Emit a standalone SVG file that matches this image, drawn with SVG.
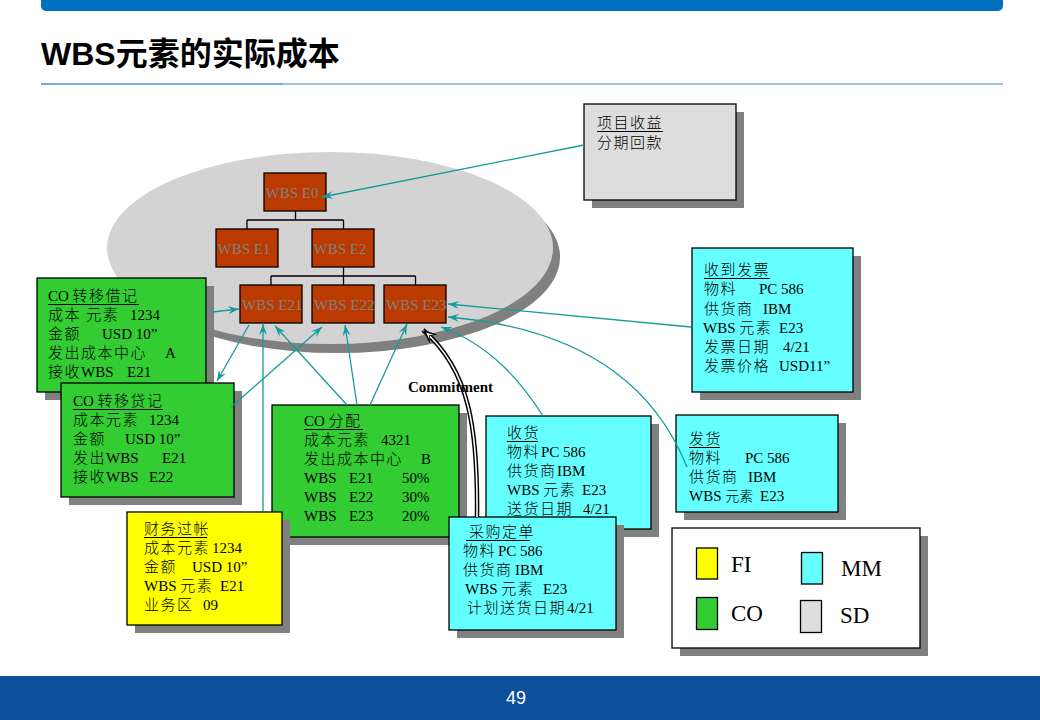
<svg xmlns="http://www.w3.org/2000/svg" width="1040" height="720" viewBox="0 0 1040 720">
<style>
.sh{fill:#808080}
.bx{stroke:#000;stroke-width:1.3}
.t{font-family:"Liberation Serif","Noto Sans CJK SC",serif;font-size:15px;font-weight:300;fill:#000}
.k{letter-spacing:1.5px}
.w{fill:#BB3A00;stroke:#000;stroke-width:1.3}
.wt{font-family:"Liberation Serif",serif;font-size:15px;fill:#808080}
.c{fill:none;stroke:#149C9C;stroke-width:1.3}
.u{stroke:#000;stroke-width:1}
.tree{fill:none;stroke:#000;stroke-width:1.3}
.lg{font-family:"Liberation Serif",serif;font-size:23px;fill:#000}
</style>
<defs>
<marker id="a" viewBox="0 0 12 10" refX="11" refY="5" markerWidth="12" markerHeight="10" orient="auto" markerUnits="userSpaceOnUse">
<path d="M0,1 L11,5 L0,9 L4,5 z" fill="#149C9C"/>
</marker>
<marker id="cm" viewBox="0 0 15 12" refX="14" refY="6" markerWidth="15" markerHeight="12" orient="auto" markerUnits="userSpaceOnUse">
<path d="M0,0 L14,6 L0,12 L5,6 z" fill="#000"/>
<path d="M3,3 L10,6 L3,9 L6,6 z" fill="#fff"/>
</marker>
</defs>
<rect width="1040" height="720" fill="#fff"/>
<!-- header -->
<path d="M41,0 H1003 V6 a5,5 0 0 1 -5,5 H46 a5,5 0 0 1 -5,-5 Z" fill="#0070C0"/>
<text x="41" y="65" font-family="'Liberation Sans','Noto Sans CJK SC',sans-serif" font-size="32" font-weight="bold" fill="#000">WBS元素的实际成本</text>
<line x1="41" y1="84" x2="283" y2="84" stroke="#4F8FBF" stroke-width="1.5"/>
<line x1="283" y1="84" x2="1003" y2="84" stroke="#7FB5D0" stroke-width="1.5"/>
<!-- footer -->
<rect x="0" y="676" width="1040" height="44" fill="#0C4F9B"/>
<text x="516" y="704" text-anchor="middle" font-family="'Liberation Sans',sans-serif" font-size="18" fill="#fff">49</text>

<!-- ellipse -->
<g id="scope">
<ellipse cx="337" cy="257" rx="223" ry="96" fill="#808080"/>
<ellipse cx="330" cy="248" rx="223" ry="96" fill="#D3D3D3"/>
</g>

<!-- WBS tree -->
<g id="tree-lines">
<path class="tree" d="M295.5,211 V220 M247,220 H343.5 M247,220 V229 M343.5,220 V229 M343.5,267 V276 M271,276 H415.5 M271,276 V285 M343.5,276 V285 M415.5,276 V285"/>
</g>
<g id="wbs-e0"><rect class="w" x="264" y="173" width="62" height="38"/><text class="wt" x="265.5" y="198">WBS E0</text></g>
<g id="wbs-e1"><rect class="w" x="216" y="229" width="62" height="38"/><text class="wt" x="217.5" y="254">WBS E1</text></g>
<g id="wbs-e2"><rect class="w" x="312" y="229" width="62" height="38"/><text class="wt" x="313.5" y="254">WBS E2</text></g>
<g id="wbs-e21"><rect class="w" x="240" y="285" width="62" height="38"/><text class="wt" x="242" y="310">WBS E21</text></g>
<g id="wbs-e22"><rect class="w" x="312" y="285" width="62" height="38"/><text class="wt" x="314" y="310">WBS E22</text></g>
<g id="wbs-e23"><rect class="w" x="384" y="285" width="62" height="38"/><text class="wt" x="386" y="310">WBS E23</text></g>

<!-- SD box -->
<g id="sd-revenue">
<rect class="sh" x="592" y="112" width="152" height="96"/>
<rect class="bx" x="584" y="104" width="152" height="96" fill="#DDDDDD"/>
<text class="t k" x="597" y="128">项目收益</text>
<line class="u" x1="597" y1="131.5" x2="663" y2="131.5"/>
<text class="t k" x="597" y="148">分期回款</text>
</g>

<!-- CO transfer debit -->
<g id="co-debit">
<rect class="sh" x="45" y="286" width="169" height="114"/>
<rect class="bx" x="37" y="278" width="169" height="114" fill="#33CC33"/>
<text class="t" y="301"><tspan x="48">CO </tspan><tspan class="k">转移借记</tspan></text>
<line class="u" x1="48" y1="304.5" x2="139" y2="304.5"/>
<text class="t" y="320"><tspan x="48" class="k">成本 元素</tspan><tspan x="130">1234</tspan></text>
<text class="t" y="339"><tspan x="48" class="k">金额</tspan><tspan x="102">USD  10”</tspan></text>
<text class="t" y="358"><tspan x="48" class="k">发出成本中心</tspan><tspan x="165">A</tspan></text>
<text class="t" y="377"><tspan x="48" class="k">接收</tspan><tspan>WBS</tspan><tspan x="127">E21</tspan></text>
</g>

<!-- CO transfer credit -->
<g id="co-credit">
<rect class="sh" x="69" y="391" width="173" height="114"/>
<rect class="bx" x="61" y="383" width="173" height="114" fill="#33CC33"/>
<text class="t" y="406"><tspan x="73">CO </tspan><tspan class="k">转移贷记</tspan></text>
<line class="u" x1="73" y1="409.5" x2="163" y2="409.5"/>
<text class="t" y="425"><tspan x="73" class="k">成本元素</tspan><tspan x="149">1234</tspan></text>
<text class="t" y="444"><tspan x="73" class="k">金额</tspan><tspan x="125">USD  10”</tspan></text>
<text class="t" y="463"><tspan x="73" class="k">发出</tspan><tspan>WBS</tspan><tspan x="162">E21</tspan></text>
<text class="t" y="482"><tspan x="73" class="k">接收</tspan><tspan>WBS</tspan><tspan x="149">E22</tspan></text>
</g>

<!-- CO allocation -->
<g id="co-alloc">
<rect class="sh" x="280" y="413" width="187" height="132"/>
<rect class="bx" x="272" y="405" width="187" height="132" fill="#33CC33"/>
<text class="t" y="426"><tspan x="304">CO </tspan><tspan class="k">分配</tspan></text>
<line class="u" x1="304" y1="429.5" x2="363" y2="429.5"/>
<text class="t" y="445"><tspan x="304" class="k">成本元素</tspan><tspan x="381">4321</tspan></text>
<text class="t" y="464"><tspan x="304" class="k">发出成本中心</tspan><tspan x="421">B</tspan></text>
<text class="t" y="483"><tspan x="304">WBS</tspan><tspan x="349">E21</tspan><tspan x="402">50%</tspan></text>
<text class="t" y="502"><tspan x="304">WBS</tspan><tspan x="349">E22</tspan><tspan x="402">30%</tspan></text>
<text class="t" y="521"><tspan x="304">WBS</tspan><tspan x="349">E23</tspan><tspan x="402">20%</tspan></text>
</g>

<!-- FI posting -->
<g id="fi-posting">
<rect class="sh" x="135" y="520" width="155" height="113"/>
<rect class="bx" x="127" y="512" width="155" height="113" fill="#FFFF00"/>
<text class="t k" x="144" y="534">财务过帐</text>
<line class="u" x1="144" y1="537.5" x2="207" y2="537.5"/>
<text class="t" y="553"><tspan x="144" class="k">成本元素</tspan><tspan x="212">1234</tspan></text>
<text class="t" y="572"><tspan x="144" class="k">金额</tspan><tspan x="192">USD 10”</tspan></text>
<text class="t" y="591"><tspan x="144">WBS </tspan><tspan class="k">元素</tspan><tspan x="220">E21</tspan></text>
<text class="t" y="610"><tspan x="144" class="k">业务区</tspan><tspan x="203">09</tspan></text>
</g>

<!-- Goods receipt -->
<g id="mm-gr">
<rect class="sh" x="494" y="424" width="165" height="113"/>
<rect class="bx" x="486" y="416" width="165" height="113" fill="#66FFFF"/>
<text class="t k" x="507" y="438">收货</text>
<line class="u" x1="507" y1="441.5" x2="538" y2="441.5"/>
<text class="t" y="457"><tspan x="507" class="k">物料</tspan><tspan x="541">PC 586</tspan></text>
<text class="t" y="476"><tspan x="507" class="k">供货商</tspan><tspan x="557">IBM</tspan></text>
<text class="t" y="495"><tspan x="507">WBS </tspan><tspan class="k">元素</tspan><tspan x="582">E23</tspan></text>
<text class="t" y="514"><tspan x="507" class="k">送货日期</tspan><tspan x="583">4/21</tspan></text>
</g>

<!-- Purchase order -->
<g id="mm-po">
<rect class="sh" x="457" y="525" width="167" height="113"/>
<rect class="bx" x="449" y="517" width="167" height="113" fill="#66FFFF"/>
<text class="t k" x="469" y="537">采购定单</text>
<line class="u" x1="466" y1="540.5" x2="530" y2="540.5"/>
<text class="t" y="556"><tspan x="463" class="k">物料</tspan><tspan x="498">PC 586</tspan></text>
<text class="t" y="575"><tspan x="463" class="k">供货商</tspan><tspan x="515">IBM</tspan></text>
<text class="t" y="594"><tspan x="465">WBS </tspan><tspan class="k">元素</tspan><tspan x="543">E23</tspan></text>
<text class="t" y="613"><tspan x="467" class="k">计划送货日期</tspan><tspan x="567">4/21</tspan></text>
</g>

<!-- Invoice receipt -->
<g id="mm-ir">
<rect class="sh" x="700" y="256" width="161" height="144"/>
<rect class="bx" x="692" y="248" width="161" height="144" fill="#66FFFF"/>
<text class="t k" x="704" y="275">收到发票</text>
<line class="u" x1="704" y1="278.5" x2="770" y2="278.5"/>
<text class="t" y="294"><tspan x="704" class="k">物料</tspan><tspan x="759">PC 586</tspan></text>
<text class="t" y="314"><tspan x="704" class="k">供货商</tspan><tspan x="763">IBM</tspan></text>
<text class="t" y="333"><tspan x="703">WBS </tspan><tspan class="k">元素</tspan><tspan x="779">E23</tspan></text>
<text class="t" y="352"><tspan x="704" class="k">发票日期</tspan><tspan x="783">4/21</tspan></text>
<text class="t" y="371"><tspan x="704" class="k">发票价格</tspan><tspan x="779">USD11”</tspan></text>
</g>

<!-- Goods issue -->
<g id="mm-gi">
<rect class="sh" x="684" y="423" width="162" height="97"/>
<rect class="bx" x="676" y="415" width="162" height="97" fill="#66FFFF"/>
<text class="t k" x="689" y="444">发货</text>
<line class="u" x1="689" y1="447.5" x2="720" y2="447.5"/>
<text class="t" y="463"><tspan x="689" class="k">物料</tspan><tspan x="745">PC 586</tspan></text>
<text class="t" y="482"><tspan x="689" class="k">供货商</tspan><tspan x="748">IBM</tspan></text>
<text class="t" y="501"><tspan x="689">WBS </tspan><tspan font-size="14">元素</tspan><tspan x="760">E23</tspan></text>
</g>

<!-- Legend -->
<g id="legend">
<rect class="sh" x="680" y="536" width="248" height="120"/>
<rect class="bx" x="672" y="528" width="248" height="120" fill="#fff"/>
<rect class="bx" x="696.5" y="548" width="21" height="31" fill="#FFFF00"/>
<text class="lg" x="731" y="572">FI</text>
<rect class="bx" x="696.5" y="597.5" width="21" height="32" fill="#33CC33"/>
<text class="lg" x="731" y="621">CO</text>
<rect class="bx" x="801.5" y="552.5" width="21" height="31.5" fill="#66FFFF"/>
<text class="lg" x="841" y="576">MM</text>
<rect class="bx" x="800.5" y="600.5" width="21" height="32" fill="#DDDDDD"/>
<text class="lg" x="840" y="623">SD</text>
</g>

<!-- connectors -->
<g id="connectors">
<path class="c" d="M584,145 L322,197" marker-end="url(#a)"/>
<path class="c" d="M212,312 L239,309" marker-end="url(#a)"/>
<path class="c" d="M249,325 L217,381" marker-end="url(#a)"/>
<path class="c" d="M231,407 L322,327" marker-end="url(#a)"/>
<path class="c" d="M263,511 L263,324" marker-end="url(#a)"/>
<path class="c" d="M347,405 L275,326" marker-end="url(#a)"/>
<path class="c" d="M357,405 L345,325" marker-end="url(#a)"/>
<path class="c" d="M370,405 L407,324" marker-end="url(#a)"/>
<path class="c" d="M543,416 C520,380 490,345 441,327" marker-end="url(#a)"/>
<path class="c" d="M687,467 C660,400 600,330 448,317" marker-end="url(#a)"/>
<path class="c" d="M691,327 L448,304" marker-end="url(#a)"/>
<path d="M477,517 C478,430 470,370 423,330" fill="none" stroke="#000" stroke-width="4.5"/>
<path d="M477,517 C478,430 470,370 423,330" fill="none" stroke="#fff" stroke-width="1.6" marker-end="url(#cm)"/>
</g>
<text x="408" y="392" font-family="'Liberation Serif',serif" font-size="15.5" font-weight="bold" textLength="85" lengthAdjust="spacingAndGlyphs">Commitment</text>
</svg>
